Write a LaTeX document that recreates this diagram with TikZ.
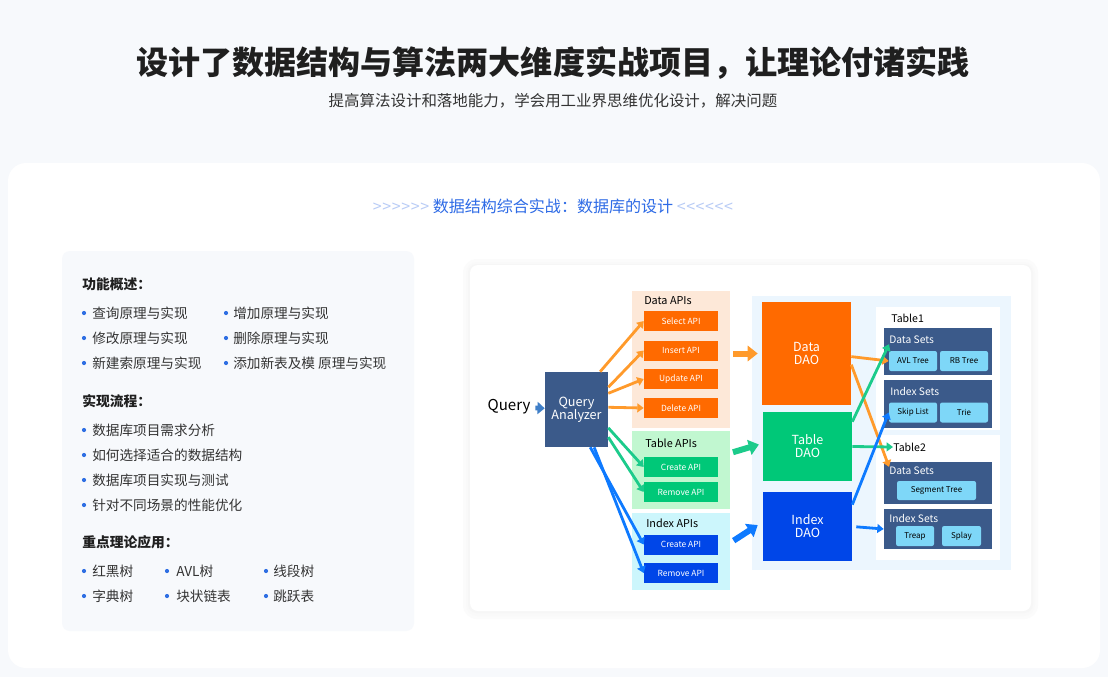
\documentclass[tikz,border=0pt]{standalone}
\usepackage{fontspec}
\setmainfont{Noto Sans CJK SC}
\usetikzlibrary{arrows.meta}
\definecolor{bgcol}{HTML}{F7F9FC}
\definecolor{txtcol}{HTML}{333333}
\definecolor{titlecol}{HTML}{1F1F1F}
\definecolor{chevcol}{HTML}{B9CCF6}
\definecolor{secblue}{HTML}{2E6BE6}
\definecolor{dotblue}{HTML}{2F6FE3}
\definecolor{navy}{HTML}{3B5A8A}
\definecolor{qblue}{HTML}{3F7FC8}
\definecolor{peach}{HTML}{FDE8D8}
\definecolor{aorange}{HTML}{FF6A00}
\definecolor{lorange}{HTML}{FF9A2B}
\definecolor{pgreen}{HTML}{C1F7D0}
\definecolor{agreen}{HTML}{00C878}
\definecolor{lgreen}{HTML}{1CCB8B}
\definecolor{pcyan}{HTML}{CCF6FC}
\definecolor{ablue}{HTML}{0046E8}
\definecolor{lblue}{HTML}{0E7AFF}
\definecolor{rpanel}{HTML}{ECF6FE}
\definecolor{leafcol}{HTML}{7ED7F8}
\newcommand{\chevr}{>\kern0.4pt>\kern0.4pt>\kern0.4pt>\kern0.4pt>\kern0.4pt>}
\newcommand{\chevl}{<\kern0.4pt<\kern0.4pt<\kern0.4pt<\kern0.4pt<\kern0.4pt<}
\begin{document}
\begin{tikzpicture}[x=0.025cm,y=-0.025cm]
\tikzset{
  lbl/.style={inner sep=0pt, anchor=west},
  item/.style={lbl, text=txtcol, font=\fontsize{9.7}{11}\selectfont},
  head/.style={lbl, text=titlecol, font=\fontsize{9.8}{11}\bfseries},
  box/.style={inner sep=0pt, align=center, text=white},
  apibtn/.style={box, minimum width=1.85cm, minimum height=0.5cm, font=\fontsize{6}{7}\selectfont},
  apipanel/.style={inner sep=0pt, minimum width=2.45cm},
  dao/.style={box, minimum width=2.225cm, font=\fontsize{8.9}{9.3}\selectfont},
  tblpanel/.style={fill=white, inner sep=0pt, minimum width=3.1cm},
  setbox/.style={fill=navy, inner sep=0pt, minimum width=2.7cm},
  setlbl/.style={lbl, text=white, font=\fontsize{7.3}{8}\selectfont},
  leaf/.style={fill=leafcol, rounded corners=1.5pt, inner sep=0pt, minimum height=0.5cm, font=\fontsize{5.7}{6}\selectfont},
  thin/.style={line width=0.07cm, -{Triangle[length=0.16cm,width=0.22cm]}},
  thick/.style={line width=0.15cm, -{Triangle[length=0.25cm,width=0.38cm]}}
}
\fill[bgcol] (0,0) rectangle (1108,677);
\fill[white, rounded corners=0.45cm] (8,163) rectangle (1100,668);
\fill[bgcol, rounded corners=0.2cm] (62,251) rectangle (414,631);
\fill[black!1.5, rounded corners=0.35cm] (463,259) rectangle (1038,619);
\fill[black!2.5, rounded corners=0.28cm] (466,262) rectangle (1035,616);
\fill[black!3.5, rounded corners=0.22cm] (468,264) rectangle (1033,613);
\fill[white, rounded corners=0.2cm] (470,265) rectangle (1031,611);

\node[text=titlecol, font=\fontsize{22.8}{26}\bfseries] (title) at (553,63) {设计了数据结构与算法两大维度实战项目，让理论付诸实践};
\node[text=txtcol, font=\fontsize{11}{13}\selectfont] (subtitle) at (553,101) {提高算法设计和落地能力，学会用工业界思维优化设计，解决问题};
\node[font=\fontsize{11.4}{13}\selectfont] (section) at (553,206) {\textcolor{chevcol}{\chevr}\ \textcolor{secblue}{数据结构综合实战：数据库的设计}\ \textcolor{chevcol}{\chevl}};

\node[head] (h1) at (82,284) {功能概述：};
\node[item] (f1) at (92,313) {查询原理与实现};
\node[item] (f2) at (233,313) {增加原理与实现};
\node[item] (f3) at (92,338) {修改原理与实现};
\node[item] (f4) at (233,338) {删除原理与实现};
\node[item] (f5) at (92,363) {新建索原理与实现};
\node[item] (f6) at (233,363) {添加新表及模 原理与实现};
\node[head] (h2) at (82,401) {实现流程：};
\node[item] (p1) at (92,430) {数据库项目需求分析};
\node[item] (p2) at (92,455) {如何选择适合的数据结构};
\node[item] (p3) at (92,480) {数据库项目实现与测试};
\node[item] (p4) at (92,505) {针对不同场景的性能优化};
\node[head] (h3) at (82,542) {重点理论应用：};
\node[item] (t1) at (92,571) {红黑树};
\node[item] (t2) at (176,571) {AVL树};
\node[item] (t3) at (273,571) {线段树};
\node[item] (t4) at (92,596) {字典树};
\node[item] (t5) at (176,596) {块状链表};
\node[item] (t6) at (273,596) {跳跃表};
\foreach \bx/\by in {84/313, 226/313, 84/338, 226/338, 84/363, 226/363, 84/430, 84/455, 84/480, 84/505, 84/571, 167/571, 266/571, 84/596, 167/596, 266/596}
  \fill[dotblue] (\bx,\by) circle (2.1);

\node[font=\fontsize{10.7}{12}\selectfont] (query) at (509,407) {Query};
\node[box, fill=navy, minimum width=1.575cm, minimum height=1.875cm, font=\fontsize{9}{9.3}\selectfont] (qa) at (576.5,409.5) {Query\\Analyzer};

\node[apipanel, fill=peach, minimum height=3.425cm] (dapi) at (681,359.5) {};
\node[apipanel, fill=pgreen, minimum height=1.95cm] (tapi) at (681,470) {};
\node[apipanel, fill=pcyan, minimum height=1.925cm] (iapi) at (681,551.5) {};
\node[lbl, font=\fontsize{7.7}{8}\selectfont] (dapil) at (644,301) {Data APIs};
\node[lbl, font=\fontsize{7.7}{8}\selectfont] (tapil) at (645,443) {Table APIs};
\node[lbl, font=\fontsize{7.7}{8}\selectfont] (iapil) at (646,523) {Index APIs};
\node[apibtn, fill=aorange] (sel) at (681,321) {Select API};
\node[apibtn, fill=aorange] (ins) at (681,350.5) {Insert API};
\node[apibtn, fill=aorange] (upd) at (681,379) {Update API};
\node[apibtn, fill=aorange] (del) at (681,408) {Delete API};
\node[apibtn, fill=agreen] (tcre) at (681,467) {Create API};
\node[apibtn, fill=agreen] (trem) at (681,492) {Remove API};
\node[apibtn, fill=ablue] (icre) at (681,544.5) {Create API};
\node[apibtn, fill=ablue] (irem) at (681,573) {Remove API};

\node[inner sep=0pt, fill=rpanel, minimum width=6.475cm, minimum height=6.85cm] (rp) at (881.5,433) {};
\node[dao, fill=aorange, minimum height=2.575cm] (ddao) at (806.5,353.5) {Data\\DAO};
\node[dao, fill=agreen, minimum height=1.725cm] (tdao) at (807.5,446.5) {Table\\DAO};
\node[dao, fill=ablue, minimum height=1.725cm] (idao) at (807.5,526.5) {Index\\DAO};

\node[tblpanel, minimum height=3.075cm] (tb1) at (938,368.5) {};
\node[tblpanel, minimum height=3.125cm] (tb2) at (938,497.5) {};
\node[lbl, font=\fontsize{7.5}{8}\selectfont] (tb1l) at (891,318) {Table1};
\node[lbl, font=\fontsize{7.5}{8}\selectfont] (tb2l) at (893,447) {Table2};
\node[setbox, minimum height=1.175cm] (ds1) at (938,351.5) {};
\node[setbox, minimum height=1.2cm] (is1) at (938,404) {};
\node[setbox, minimum height=1.05cm] (ds2) at (938,483) {};
\node[setbox, minimum height=1.0cm] (is2) at (938,529) {};
\node[setlbl] (ds1l) at (889,340) {Data Sets};
\node[setlbl] (is1l) at (890,391) {Index Sets};
\node[setlbl] (ds2l) at (889,471) {Data Sets};
\node[setlbl] (is2l) at (889,518) {Index Sets};
\node[leaf, minimum width=1.2cm] (avl) at (913,361) {AVL Tree};
\node[leaf, minimum width=1.2cm] (rb) at (964,361) {RB Tree};
\node[leaf, minimum width=1.2cm] (skip) at (913,412.5) {Skip List};
\node[leaf, minimum width=1.2cm] (trie) at (964,412.5) {Trie};
\node[leaf, minimum width=1.975cm, minimum height=0.475cm] (seg) at (936.5,490.5) {Segment Tree};
\node[leaf, minimum width=0.95cm] (treap) at (915,536) {Treap};
\node[leaf, minimum width=0.975cm] (splay) at (961.5,536) {Splay};

\draw[thick, qblue, line width=0.12cm, -{Triangle[length=0.18cm,width=0.3cm]}] (query) -- (qa);
\draw[thin, lorange] (qa.58) -- (sel.west);
\draw[thin, lorange] (qa.35) -- (ins.west);
\draw[thin, lorange] (qa.27) -- (upd.west);
\draw[thin, lorange] (qa.4) -- (del.west);
\draw[thin, lgreen] (qa.-30) -- (tcre.west);
\draw[thin, lgreen] (qa.-41) -- (trem.west);
\draw[thin, lblue] (qa.-70) -- (icre.west);
\draw[thin, lblue] (qa.-65) -- (irem.west);

\draw[thick, lorange, shorten <=0.07cm, shorten >=0.1cm] (dapi.east |- ddao.west) -- (ddao.west);
\draw[thick, lgreen, shorten <=0.07cm, shorten >=0.1cm] (tapi.19) -- (tdao.176);
\draw[thick, lblue, shorten <=0.1cm, shorten >=0.15cm] (iapi.10) -- (idao.174);

\draw[thin, lorange] (ddao.-4) -- (avl.west);
\draw[thin, lorange] (ddao.-14) -- (ds2l.north west);
\draw[thin, lgreen] (tdao.29) -- (ds1l.south west);
\draw[thin, lgreen] (tdao.east) -- (tb2l.west);
\draw[thin, lblue] (idao.26) -- (skip.west);
\draw[thin, lblue, shorten <=0.1cm] (idao.east) -- (is2.west);
\end{tikzpicture}
\end{document}
